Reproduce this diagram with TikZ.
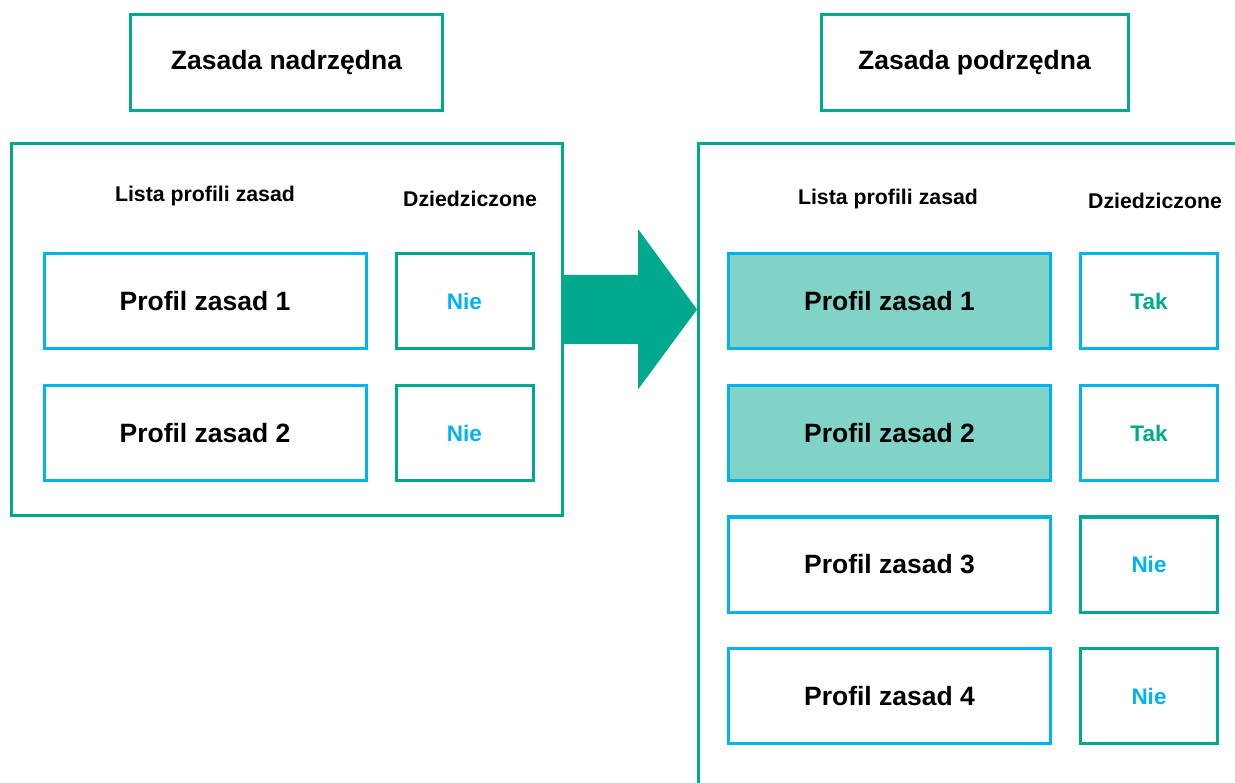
\documentclass[tikz,border=0pt]{standalone}
\usepackage{fontspec}
\setmainfont{Liberation Sans}
\definecolor{kgreen}{RGB}{0,168,142}
\definecolor{kblue}{RGB}{0,178,238}
\definecolor{kfill}{RGB}{128,211,198}
\tikzset{
  base/.style={x=1pt,y=-1pt},
  titlebox/.style={draw=kgreen,line width=3pt,minimum width=312pt,minimum height=96pt,inner sep=0pt,
    font=\bfseries\fontsize{26.5}{30}\selectfont},
  panel/.style={draw=kgreen,line width=3pt,inner sep=0pt},
  profbox/.style={draw=kblue,line width=3pt,minimum width=322pt,minimum height=95pt,inner sep=0pt,
    font=\bfseries\fontsize{26.5}{30}\selectfont},
  inherited/.style={profbox,fill=kfill},
  flagno/.style={draw=kgreen,line width=3pt,minimum width=137pt,minimum height=95pt,inner sep=0pt,
    text=kblue,font=\bfseries\fontsize{22.5}{26}\selectfont},
  flagyes/.style={flagno,draw=kblue,text=kgreen},
  header/.style={inner sep=0pt,font=\bfseries\fontsize{21.3}{25}\selectfont},
}
\begin{document}
\begin{tikzpicture}[base]
\useasboundingbox (0,0) rectangle (1235,783);
\clip (0,0) rectangle (1235,783);

% titles
\node[titlebox] (tparent) at (286.5,62.5) {Zasada nadrzędna};
\node[titlebox,minimum width=307pt] (tchild) at (974.5,62.5) {Zasada podrzędna};

% parent policy panel
\node[panel,minimum width=551pt,minimum height=372pt] (pparent) at (287,329.5) {};
\node[header] (hlistL) at (205,196) {Lista profili zasad};
\node[header] (hinhL) at (470,199) {Dziedziczone};
\node[profbox] (l1) at (205,301) {Profil zasad 1};
\node[profbox] (l2) at (205,433) {Profil zasad 2};
\node[flagno] (ln1) at (464.5,301) {Nie};
\node[flagno] (ln2) at (464.5,433) {Nie};

% child policy panel (runs past the right and bottom edges)
\node[panel,minimum width=600pt,minimum height=700pt,anchor=north west] (pchild) at (697,142) {};
\node[header] (hlistR) at (888,199) {Lista profili zasad};
\node[header] (hinhR) at (1155,201) {Dziedziczone};
\node[inherited] (r1) at (889.5,301.5) {Profil zasad 1};
\node[inherited] (r2) at (889.5,433) {Profil zasad 2};
\node[profbox] (r3) at (889.5,564.5) {Profil zasad 3};
\node[profbox] (r4) at (889.5,696) {Profil zasad 4};
\node[flagyes] (rf1) at (1149,301.5) {Tak};
\node[flagyes] (rf2) at (1149,433) {Tak};
\node[flagno] (rf3) at (1149,564.5) {Nie};
\node[flagno] (rf4) at (1149,696) {Nie};

% block arrow from parent panel to child panel
\coordinate (tail) at (pparent.east |- 0,309.5);
\coordinate (tip) at (pchild.west |- 0,309.5);
\fill[kgreen] (tail) ++(0,-34.5) -- ++(74,0) -- ++(0,-46) -- (tip)
  -- ++(-59,80) -- ++(0,-45.5) -- ++(-74,0) -- cycle;
\end{tikzpicture}
\end{document}
